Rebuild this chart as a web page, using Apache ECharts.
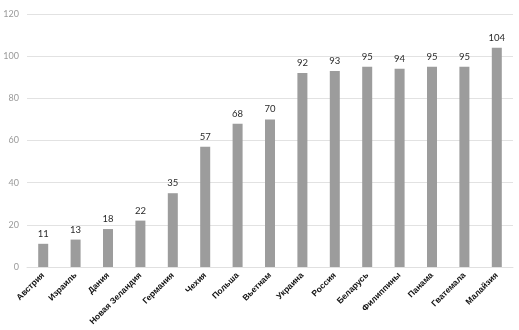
<!DOCTYPE html>
<html>
<head>
<meta charset="utf-8">
<script src="https://cdn.jsdelivr.net/npm/echarts@6/dist/echarts.min.js"></script>
<style>
  html, body { margin: 0; padding: 0; background: #fff; }
  #chart { width: 519px; height: 330px; }
</style>
</head>
<body>
<div id="chart"></div>
<script>
const countries = [
  "Австрия", "Израиль", "Дания", "Новая Зеландия", "Германия", "Чехия",
  "Польша", "Вьетнам", "Украина", "Россия", "Беларусь", "Филиппины",
  "Панама", "Гватемала", "Малайзия"
];
const values = [11, 13, 18, 22, 35, 57, 68, 70, 92, 93, 95, 94, 95, 95, 104];

const chart = echarts.init(document.getElementById("chart"));

chart.setOption({
  animation: false,
  grid: { left: 27, right: 6, top: 14, bottom: 63 },
  xAxis: {
    type: "category",
    data: countries,
    axisLine: { lineStyle: { color: "#e0e0e0" } },
    axisTick: { show: false },
    axisLabel: {
      rotate: 45,
      interval: 0,
      margin: 7,
      color: "#111",
      fontSize: 8.5,
      fontWeight: "bold",
      fontFamily: "Liberation Sans",
    },
  },
  yAxis: {
    type: "value",
    min: 0,
    max: 120,
    interval: 20,
    axisLine: { show: false },
    axisTick: { show: false },
    axisLabel: { color: "#9a9a9a", fontSize: 9, fontFamily: "Lato", margin: 8 },
    splitLine: { lineStyle: { color: "#e2e2e2" } },
  },
  series: [
    {
      type: "bar",
      data: values,
      barWidth: 10,
      itemStyle: { color: "#9c9c9c" },
      label: {
        show: true,
        position: "top",
        distance: 5,
        color: "#2a2a2a",
        fontSize: 9.5,
        fontFamily: "Lato",
      },
    },
  ],
});
</script>
</body>
</html>
